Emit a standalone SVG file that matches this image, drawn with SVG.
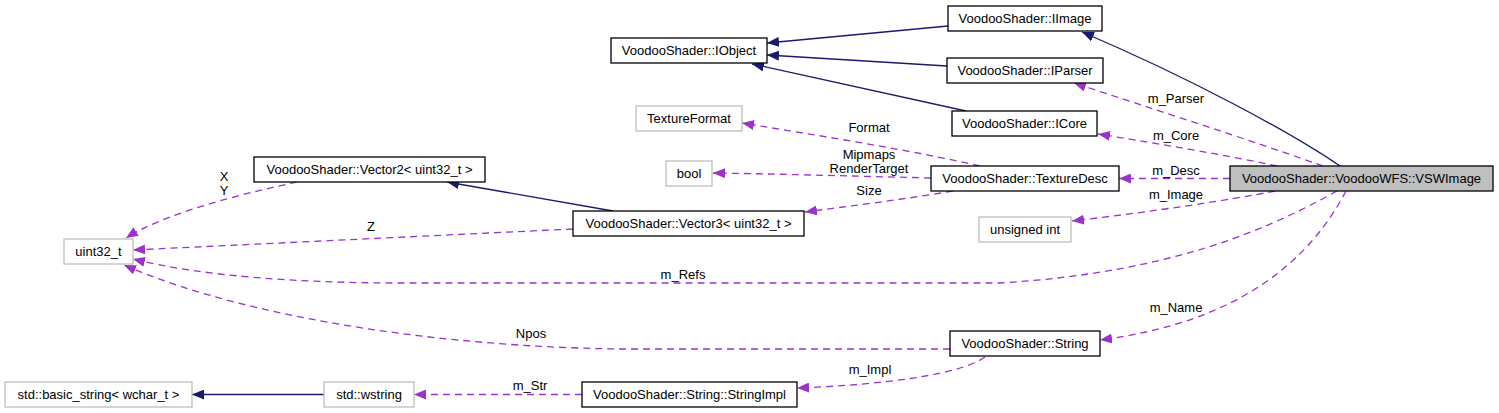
<svg xmlns="http://www.w3.org/2000/svg" width="1499" height="413" viewBox="0 0 1499 413">
<style>
.n rect{fill:#fff;stroke:#000;stroke-width:1.3}
.n.u rect{stroke:#bfbfbf}
.n.c rect{fill:#bfbfbf}
text{font-family:"Liberation Sans",Arial,sans-serif;font-size:13px;text-anchor:middle;fill:#000}
.inh{stroke:#191970;fill:none;stroke-width:1.3}
.use{stroke:#9a32cd;fill:none;stroke-width:1.3;stroke-dasharray:7,5}
</style>
<defs>
<marker id="ab" viewBox="0 0 12 10" refX="12" refY="5" markerWidth="12" markerHeight="10" markerUnits="userSpaceOnUse" orient="auto"><path d="M0,0L12,5L0,10z" fill="#191970"/></marker>
<marker id="ap" viewBox="0 0 12 10" refX="12" refY="5" markerWidth="12" markerHeight="10" markerUnits="userSpaceOnUse" orient="auto"><path d="M0,0L12,5L0,10z" fill="#9a32cd"/></marker>
</defs>
<rect width="1499" height="413" fill="#fff"/>
<g id="connectors">
<path class="inh" marker-end="url(#ab)" d="M948,26L767,43"/>
<path class="inh" marker-end="url(#ab)" d="M947,66L767,55"/>
<path class="inh" marker-end="url(#ab)" d="M966,111L752,64"/>
<path class="inh" marker-end="url(#ab)" d="M1340,166C1290,132 1190,78 1082,32"/>
<path class="inh" marker-end="url(#ab)" d="M613,211L447,182"/>
<path class="inh" marker-end="url(#ab)" d="M324,394.5L192,394.5"/>
<path class="use" marker-end="url(#ap)" d="M1323,166C1250,140 1150,108 1074,83"/>
<path class="use" marker-end="url(#ap)" d="M1277,166C1220,154 1160,144 1098,134"/>
<path class="use" marker-end="url(#ap)" d="M1230,178.5L1119,178.5"/>
<path class="use" marker-end="url(#ap)" d="M1275,191C1230,200 1150,212 1072,221"/>
<path class="use" marker-end="url(#ap)" d="M1337,191C1275,225 1180,272 1000,283L400,283C300,283 200,276 133,259"/>
<path class="use" marker-end="url(#ap)" d="M1346,191C1310,260 1240,322 1100,340"/>
<path class="use" marker-end="url(#ap)" d="M980,166C900,148 820,136 742,123"/>
<path class="use" marker-end="url(#ap)" d="M931,178C850,176 780,174 713,173"/>
<path class="use" marker-end="url(#ap)" d="M953,191C900,200 850,206 805,212"/>
<path class="use" marker-end="url(#ap)" d="M297,182C260,190 170,210 126,238"/>
<path class="use" marker-end="url(#ap)" d="M573,229L133,250"/>
<path class="use" marker-end="url(#ap)" d="M950,349L620,349C450,347 250,320 124,265"/>
<path class="use" marker-end="url(#ap)" d="M985,357C960,375 880,385 797,388"/>
<path class="use" marker-end="url(#ap)" d="M582,394.5L414,394.5"/>
<text x="1176" y="103">m_Parser</text>
<text x="1176" y="140">m_Core</text>
<text x="1176" y="175">m_Desc</text>
<text x="1176" y="199">m_Image</text>
<text x="683" y="279">m_Refs</text>
<text x="1176" y="312">m_Name</text>
<text x="869" y="132">Format</text>
<text x="869" y="158.5">Mipmaps</text>
<text x="869" y="172.5">RenderTarget</text>
<text x="869" y="195">Size</text>
<text x="224" y="180.5">X</text>
<text x="224" y="194.5">Y</text>
<text x="371" y="231">Z</text>
<text x="531" y="338">Npos</text>
<text x="870" y="374">m_Impl</text>
<text x="530" y="390">m_Str</text>
</g>
<g id="IImage" class="n"><rect x="948" y="6" width="154" height="25"/><text x="1025" y="23">VoodooShader::IImage</text></g>
<g id="IObject" class="n"><rect x="611" y="38" width="156" height="25"/><text x="689" y="55">VoodooShader::IObject</text></g>
<g id="IParser" class="n"><rect x="947" y="58" width="156" height="25"/><text x="1025" y="75">VoodooShader::IParser</text></g>
<g id="ICore" class="n"><rect x="952" y="111" width="145" height="25"/><text x="1024.5" y="128">VoodooShader::ICore</text></g>
<g id="TextureFormat" class="n u"><rect x="636" y="106" width="106" height="25"/><text x="689" y="123">TextureFormat</text></g>
<g id="bool" class="n u"><rect x="666" y="161" width="46" height="25"/><text x="689" y="178">bool</text></g>
<g id="TextureDesc" class="n"><rect x="931" y="166" width="188" height="25"/><text x="1025" y="183">VoodooShader::TextureDesc</text></g>
<g id="VSWImage" class="n c"><rect x="1230" y="166" width="263" height="25"/><text x="1361.5" y="183">VoodooShader::VoodooWFS::VSWImage</text></g>
<g id="Vector2" class="n"><rect x="254" y="157" width="231" height="25"/><text x="369.5" y="174">VoodooShader::Vector2&lt; uint32_t &gt;</text></g>
<g id="Vector3" class="n"><rect x="573" y="211" width="231" height="25"/><text x="688.5" y="228">VoodooShader::Vector3&lt; uint32_t &gt;</text></g>
<g id="unsignedint" class="n u"><rect x="979" y="217" width="92" height="25"/><text x="1025" y="234">unsigned int</text></g>
<g id="uint32_t" class="n u"><rect x="64" y="239" width="69" height="25"/><text x="98.5" y="256">uint32_t</text></g>
<g id="String" class="n"><rect x="950" y="331" width="150" height="25"/><text x="1025" y="348">VoodooShader::String</text></g>
<g id="basic_string" class="n u"><rect x="5" y="382" width="187" height="25"/><text x="98.5" y="399">std::basic_string&lt; wchar_t &gt;</text></g>
<g id="wstring" class="n u"><rect x="324" y="382" width="90" height="25"/><text x="369" y="399">std::wstring</text></g>
<g id="StringImpl" class="n"><rect x="582" y="382" width="215" height="25"/><text x="689.5" y="399">VoodooShader::String::StringImpl</text></g>
</svg>
